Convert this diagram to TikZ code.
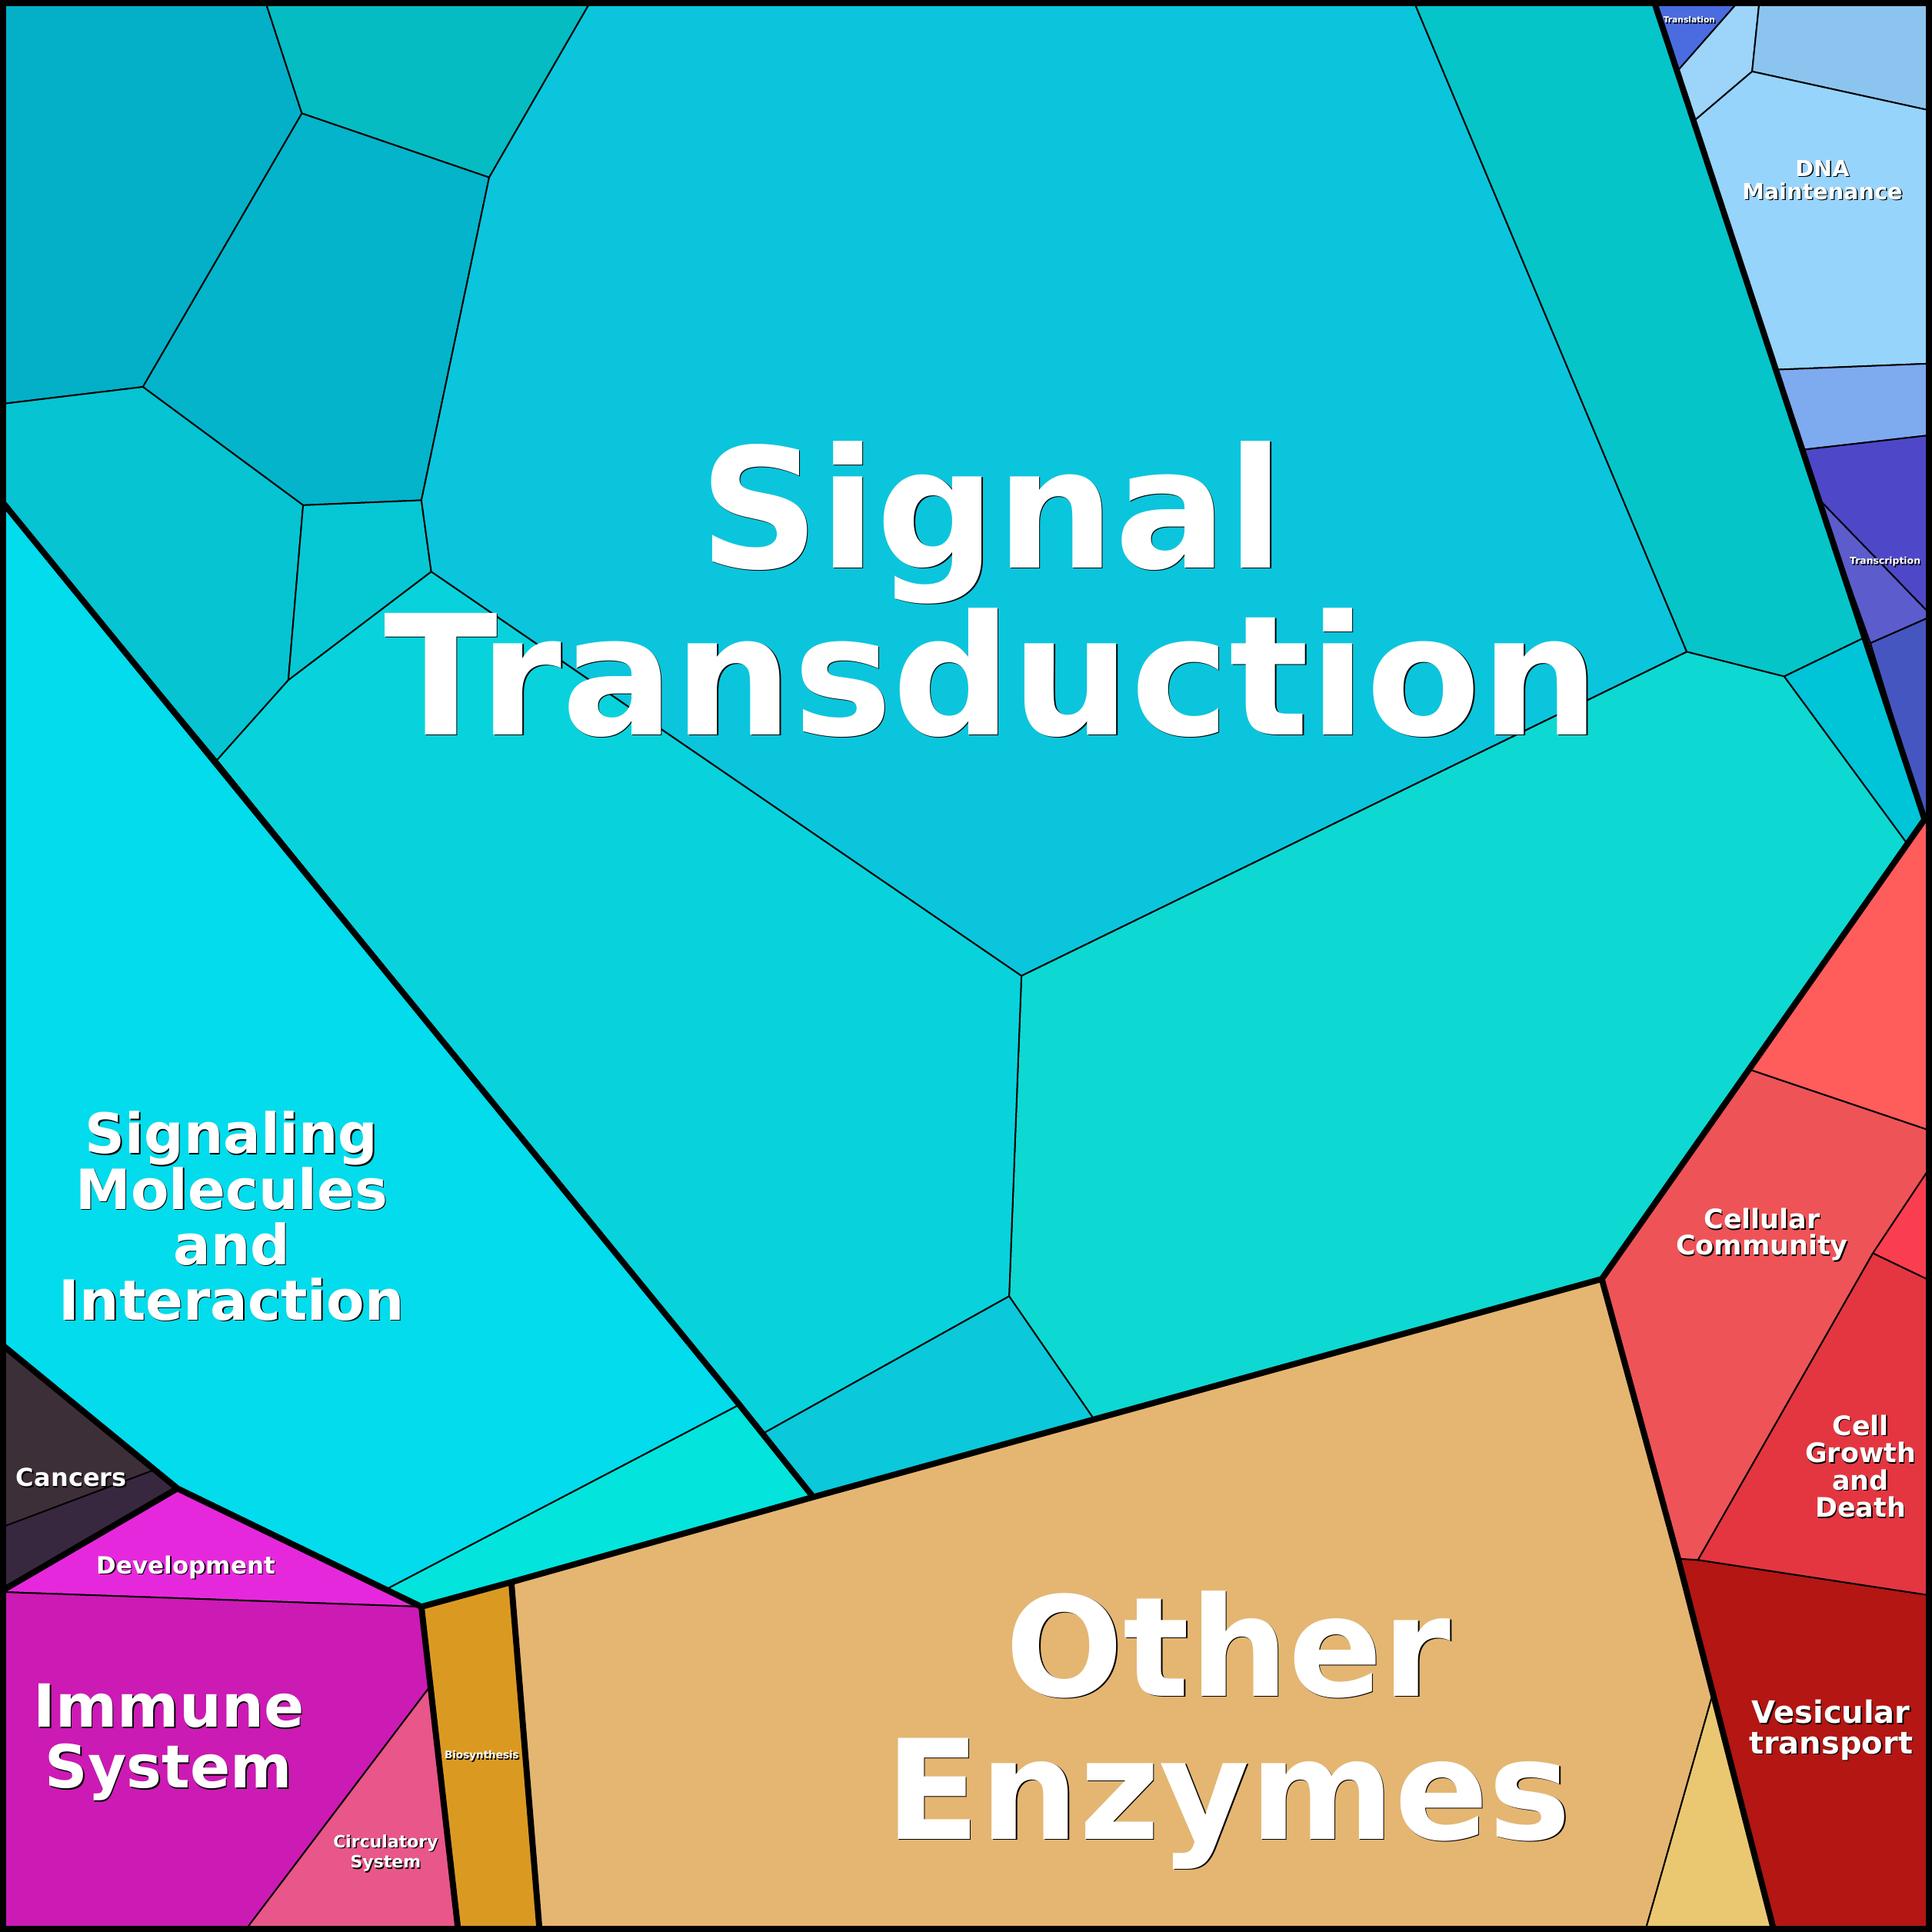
\documentclass[tikz,border=0pt]{standalone}
\usepackage{fontspec}
\setmainfont{DejaVu Sans}
\usetikzlibrary{calc}
\begin{document}
\begin{tikzpicture}[x=0.01cm,y=-0.01cm,
  cell/.style={draw=black,line width=0.35pt},
  thick/.style={draw=black,line width=1.4pt,line join=round},
  lbl/.style={text=white,align=center,inner sep=0pt}]
\def\L#1#2#3#4#5{\node[lbl,text=black,font=\fontsize{#3}{#4}\selectfont\bfseries] at ($(#1)+(0.9,0.9)$) {#5};
  \node[lbl,font=\fontsize{#3}{#4}\selectfont\bfseries] (#2) at (#1) {#5};}
\useasboundingbox (0,0) rectangle (1568,1568);
% teal group
\filldraw[cell,fill={rgb,255:red,3;green,176;blue,200}] (0,0)--(215,0)--(245,92)--(116,314)--(0,328)--cycle;
\filldraw[cell,fill={rgb,255:red,5;green,188;blue,194}] (215,0)--(480,0)--(397,144)--(245,92)--cycle;
\filldraw[cell,fill={rgb,255:red,4;green,180;blue,202}] (245,92)--(397,144)--(342,406)--(246,410)--(116,314)--cycle;
\filldraw[cell,fill={rgb,255:red,6;green,196;blue,210}] (0,328)--(116,314)--(246,410)--(234,552)--(176,617)--(0,405)--cycle;
\filldraw[cell,fill={rgb,255:red,6;green,200;blue,212}] (246,410)--(342,406)--(350,464)--(234,552)--cycle;
\filldraw[cell,fill={rgb,255:red,11;green,197;blue,220}] (480,0)--(1147,0)--(1369,529)--(829,792)--(350,464)--(342,406)--(397,144)--cycle;
\filldraw[cell,fill={rgb,255:red,5;green,197;blue,201}] (1147,0)--(1342,0)--(1512,518)--(1448,549)--(1369,529)--cycle;
\filldraw[cell,fill={rgb,255:red,0;green,196;blue,216}] (1448,549)--(1512,518)--(1562,665)--(1548,685)--cycle;
\filldraw[cell,fill={rgb,255:red,14;green,216;blue,210}] (1369,529)--(1448,549)--(1548,685)--(1300,1038)--(888,1152)--(819,1052)--(829,792)--cycle;
\filldraw[cell,fill={rgb,255:red,8;green,211;blue,220}] (176,617)--(234,552)--(350,464)--(829,792)--(819,1052)--(620,1163)--(600,1140)--cycle;
\filldraw[cell,fill={rgb,255:red,11;green,200;blue,218}] (620,1163)--(819,1052)--(888,1152)--(660,1215)--cycle;
\filldraw[cell,fill={rgb,255:red,3;green,228;blue,220}] (600,1140)--(620,1163)--(660,1215)--(342,1304)--(313,1290)--cycle;
\filldraw[cell,fill={rgb,255:red,2;green,220;blue,236}] (0,405)--(176,617)--(600,1140)--(313,1290)--(342,1304)--(144,1208)--(0,1090)--cycle;
% lower left
\filldraw[cell,fill={rgb,255:red,61;green,47;blue,56}] (0,1090)--(144,1208)--(0,1292)--cycle;
\filldraw[cell,fill={rgb,255:red,56;green,40;blue,63}] (0,1240)--(125,1193)--(144,1208)--(0,1292)--cycle;
\filldraw[cell,fill={rgb,255:red,230;green,40;blue,220}] (0,1292)--(144,1208)--(342,1304)--cycle;
\filldraw[cell,fill={rgb,255:red,204;green,26;blue,180}] (0,1292)--(342,1304)--(348,1370)--(198,1568)--(0,1568)--cycle;
\filldraw[cell,fill={rgb,255:red,232;green,86;blue,138}] (348,1370)--(372,1568)--(198,1568)--cycle;
\filldraw[cell,fill={rgb,255:red,218;green,154;blue,34}] (342,1304)--(415,1284)--(438,1568)--(372,1568)--cycle;
\filldraw[cell,fill={rgb,255:red,228;green,182;blue,114}] (415,1284)--(1300,1038)--(1390,1375)--(1335,1568)--(438,1568)--cycle;
\filldraw[cell,fill={rgb,255:red,234;green,200;blue,114}] (1390,1375)--(1440,1568)--(1335,1568)--cycle;
% reds
\filldraw[cell,fill={rgb,255:red,179;green,22;blue,19}] (1362,1265)--(1378,1266)--(1568,1295)--(1568,1568)--(1440,1568)--cycle;
\filldraw[cell,fill={rgb,255:red,227;green,54;blue,65}] (1378,1266)--(1520,1017)--(1568,1040)--(1568,1295)--cycle;
\filldraw[cell,fill={rgb,255:red,250;green,62;blue,80}] (1520,1017)--(1568,945)--(1568,1040)--cycle;
\filldraw[cell,fill={rgb,255:red,238;green,83;blue,87}] (1300,1038)--(1420,868)--(1568,918)--(1568,945)--(1520,1017)--(1378,1266)--(1362,1265)--cycle;
\filldraw[cell,fill={rgb,255:red,255;green,92;blue,92}] (1420,868)--(1562,665)--(1568,665)--(1568,918)--cycle;
% blues
\filldraw[cell,fill={rgb,255:red,74;green,108;blue,224}] (1342,0)--(1412,0)--(1362,57)--cycle;
\filldraw[cell,fill={rgb,255:red,156;green,212;blue,250}] (1412,0)--(1428,0)--(1422,58)--(1375,98)--(1362,57)--cycle;
\filldraw[cell,fill={rgb,255:red,140;green,196;blue,240}] (1428,0)--(1568,0)--(1568,90)--(1422,58)--cycle;
\filldraw[cell,fill={rgb,255:red,150;green,212;blue,252}] (1375,98)--(1422,58)--(1568,90)--(1568,295)--(1442,300)--cycle;
\filldraw[cell,fill={rgb,255:red,126;green,170;blue,240}] (1442,300)--(1568,295)--(1568,353)--(1463,365)--cycle;
\filldraw[cell,fill={rgb,255:red,78;green,72;blue,200}] (1463,365)--(1568,353)--(1568,500)--(1476,405)--cycle;
\filldraw[cell,fill={rgb,255:red,92;green,92;blue,204}] (1476,405)--(1568,500)--(1518,522)--cycle;
\filldraw[cell,fill={rgb,255:red,70;green,86;blue,192}] (1518,522)--(1568,500)--(1568,665)--(1562,665)--cycle;
% group boundaries
\draw[thick] (0,405)--(600,1140)--(660,1215);
\draw[thick] (342,1304)--(415,1284)--(660,1215)--(1300,1038)--(1562,665)--(1342,0);
\draw[thick] (1300,1038)--(1362,1265)--(1440,1568);
\draw[thick] (0,1090)--(144,1208)--(342,1304)--(372,1568);
\draw[thick] (0,1292)--(144,1208);
\draw[thick] (415,1284)--(438,1568);
\draw[black,line width=3pt] (0,0) rectangle (1568,1568);
% labels
\L{805,478}{st}{38.5}{38.5}{Signal\\Transduction}
\L{997,1404}{oe}{32}{33}{Other\\Enzymes}
\L{188,987}{sm}{12.8}{12.8}{Signaling\\Molecules\\and\\Interaction}
\L{137,1414}{im}{13.7}{14}{Immune\\System}
\L{1430,1002}{cc}{6.2}{6}{Cellular\\Community}
\L{1510,1190}{cg}{6.2}{6.3}{Cell\\Growth\\and\\Death}
\L{1486,1404}{vt}{7.1}{7}{Vesicular\\transport}
\L{1479,146}{dna}{5.1}{5.3}{DNA\\Maintenance}
\L{58,1199}{ca}{5.7}{6}{Cancers}
\L{151,1272}{dev}{5.5}{6}{Development}
\L{313,1504}{cs}{3.9}{3.7}{Circulatory\\System}
\L{391,1425}{bio}{2.4}{3}{Biosynthesis}
\L{1371,16}{tl}{1.9}{2}{Translation}
\L{1530,456}{tc}{2.2}{2}{Transcription}
\end{tikzpicture}
\end{document}
